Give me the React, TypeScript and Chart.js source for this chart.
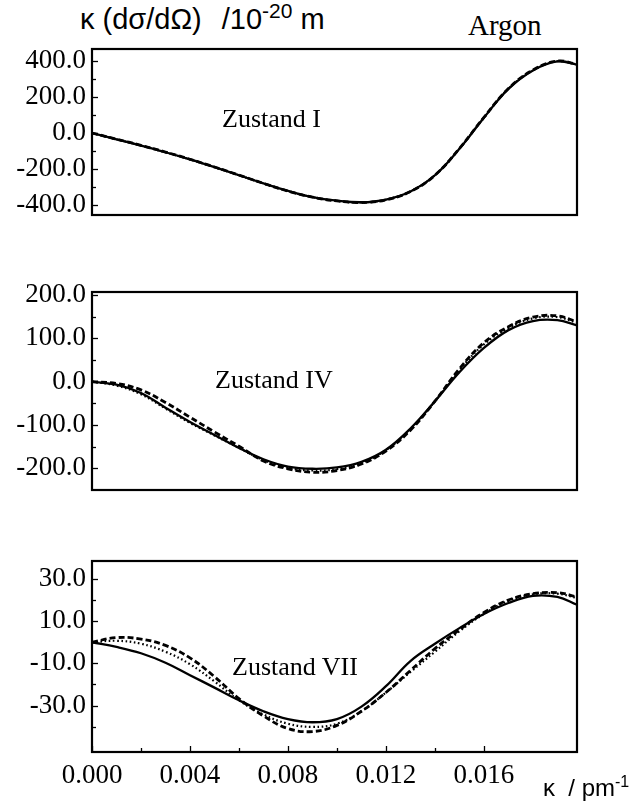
import { useEffect, useRef } from "react";
import { Chart, registerables } from "chart.js";

Chart.register(...registerables);

// Momentum transfer κ (pm^-1)
const KAPPA = [
  0, 0.001, 0.002, 0.003, 0.004, 0.005, 0.006, 0.007, 0.008, 0.009, 0.01,
  0.011, 0.012, 0.013, 0.014, 0.015, 0.016, 0.017, 0.018, 0.019, 0.0198,
];

// Zustand I
const I_SOLID = [0, -35, -70, -107, -147, -190, -235, -280, -322, -356, -376, -385, -370, -325, -235, -88, 85, 245, 348, 398, 380];
const I_DASHED = [0, -34, -69, -106, -146, -189, -234, -280, -323, -357, -378, -387, -372, -326, -235, -86, 87, 247, 350, 400, 382];
const I_DOTTED = [0, -35, -70, -107, -147, -190, -235, -281, -323, -357, -377, -386, -371, -325, -234, -87, 86, 246, 349, 399, 381];

// Zustand IV
const IV_SOLID = [0, -7, -26, -60, -93, -123, -153, -179, -196, -201, -198, -185, -157, -108, -45, 22, 78, 119, 140, 142, 130];
const IV_DASHED = [0, -4, -19, -48, -82, -116, -149, -183, -201, -209, -205, -190, -160, -112, -45, 30, 90, 127, 149, 152, 138];
const IV_DOTTED = [0, -9, -29, -62, -95, -124, -153, -181, -199, -205, -202, -188, -158, -110, -45, 27, 86, 124, 146, 149, 136];

// Zustand VII
const VII_SOLID = [0, -2.2, -5.2, -9.7, -15.6, -21.5, -27.5, -32.7, -36.4, -37.9, -36.4, -30.5, -20.8, -8.9, -0.7, 6.7, 13.4, 18.6, 22, 21.5, 17.8];
const VII_DASHED = [0, 2.2, 1.5, -1.5, -7.4, -16.3, -26.7, -34.9, -40.9, -42.3, -39.4, -32.7, -23.8, -13.4, -3, 5.9, 14.1, 20, 23, 23.5, 21.5];
const VII_DOTTED = [0, 0.7, -0.7, -4.5, -10.4, -18.6, -27.5, -34.2, -38.6, -40.1, -38.6, -32.7, -23.8, -14.1, -4.5, 5.2, 13.4, 19.6, 22.7, 23, 21];

// Axis ticks
const X_MAJOR = [0, 0.004, 0.008, 0.012, 0.016];
const X_MINOR = [0.002, 0.006, 0.01, 0.014];
const Y_MAJOR_I = [-400, -200, 0, 200, 400];
const Y_MINOR_I = [-300, -100, 100, 300];
const Y_MAJOR_IV = [-200, -100, 0, 100, 200];
const Y_MINOR_IV = [-150, -50, 50, 150];
const Y_MAJOR_VII = [-30, -10, 10, 30];
const Y_MINOR_VII = [-40, -20, 0, 20];

const SERIF = '"Liberation Serif", "Times New Roman", serif';
const SANS = '"Liberation Sans", Arial, sans-serif';

// Box around the plot area plus inward-pointing tick marks
const framePlugin = {
  id: "frame",
  afterDraw(chart: any, _args: any, opts: any) {
    const { ctx, chartArea: a, scales } = chart;
    ctx.save();
    ctx.strokeStyle = "#000";
    ctx.lineWidth = 1.3;
    const ys = scales.y;
    const tick = (vals: number[], len: number) => {
      for (const v of vals) {
        const py = Math.round(ys.getPixelForValue(v)) + 0.5;
        ctx.beginPath();
        ctx.moveTo(a.left, py);
        ctx.lineTo(a.left + len, py);
        ctx.stroke();
      }
    };
    tick(opts.yMajor || [], 6);
    tick(opts.yMinor || [], 4);
    if (opts.xTicks) {
      const xs = scales.x;
      const xt = (vals: number[], len: number) => {
        for (const v of vals) {
          const px = Math.round(xs.getPixelForValue(v)) + 0.5;
          ctx.beginPath();
          ctx.moveTo(px, a.bottom);
          ctx.lineTo(px, a.bottom - len);
          ctx.stroke();
        }
      };
      xt(X_MAJOR, 6);
      xt(X_MINOR, 4);
    }
    ctx.lineWidth = 2.2;
    ctx.strokeRect(a.left, a.top, a.right - a.left, a.bottom - a.top);
    ctx.restore();
  },
};

type PanelProps = {
  top: number;
  height: number;
  padTop: number;
  yMin: number;
  yMax: number;
  yMajor: number[];
  yMinor: number[];
  solid: number[];
  dashed: number[];
  dotted: number[];
  showX: boolean;
};

function Panel(p: PanelProps) {
  const ref = useRef<HTMLCanvasElement | null>(null);
  useEffect(() => {
    if (!ref.current) return;
    const pts = (ys: number[]) => KAPPA.map((x, i) => ({ x, y: ys[i] }));
    const chart = new Chart(ref.current, {
      type: "line",
      data: {
        datasets: [
          {
            data: pts(p.dotted),
            borderColor: "#000",
            borderWidth: 2.2,
            borderDash: [1.6, 2.6],
            pointRadius: 0,
            tension: 0.4,
            fill: false,
          },
          {
            data: pts(p.dashed),
            borderColor: "#000",
            borderWidth: 2.8,
            borderDash: [6, 3],
            pointRadius: 0,
            tension: 0.4,
            fill: false,
          },
          {
            data: pts(p.solid),
            borderColor: "#000",
            borderWidth: 2.3,
            pointRadius: 0,
            tension: 0.4,
            fill: false,
          },
        ],
      },
      options: {
        animation: false,
        responsive: false,
        maintainAspectRatio: false,
        events: [],
        layout: { padding: { left: 0, right: 58, top: p.padTop, bottom: p.showX ? 0 : 5 } },
        plugins: {
          legend: { display: false },
          tooltip: { enabled: false },
          frame: { yMajor: p.yMajor, yMinor: p.yMinor, xTicks: p.showX },
        } as any,
        scales: {
          x: {
            type: "linear",
            min: 0,
            max: 0.0198,
            display: p.showX,
            grid: { display: false, drawTicks: false },
            border: { display: false },
            afterBuildTicks: (s: any) => {
              s.ticks = X_MAJOR.map((value) => ({ value }));
            },
            afterFit: (s: any) => {
              if (p.showX) s.height = 50;
              s.paddingLeft = 0;
              s.paddingRight = 0;
            },
            ticks: {
              autoSkip: false,
              maxRotation: 0,
              padding: 8,
              color: "#000",
              font: { family: SERIF, size: 27 },
              callback: (v: any) => Number(v).toFixed(3),
            },
          },
          y: {
            type: "linear",
            min: p.yMin,
            max: p.yMax,
            grid: { display: false, drawTicks: false },
            border: { display: false },
            afterBuildTicks: (s: any) => {
              s.ticks = p.yMajor.map((value) => ({ value }));
            },
            afterFit: (s: any) => {
              s.width = 92;
              s.paddingTop = 0;
              s.paddingBottom = 0;
            },
            ticks: {
              autoSkip: false,
              padding: 6,
              color: "#000",
              font: { family: SERIF, size: 27 },
              callback: (v: any) => Number(v).toFixed(1),
            },
          },
        },
      },
      plugins: [framePlugin],
    });
    return () => chart.destroy();
  }, []);
  return (
    <canvas
      ref={ref}
      width={635}
      height={p.height}
      style={{ position: "absolute", left: 0, top: p.top, width: 635, height: p.height }}
    />
  );
}

const textBase: any = { position: "absolute", whiteSpace: "nowrap", lineHeight: 1, color: "#000" };

export default function App() {
  return (
    <div style={{ position: "absolute", left: 0, top: 0, width: 635, height: 802, background: "#fff", overflow: "hidden" }}>
      <Panel top={44} height={176} padTop={5} yMin={-456} yMax={467} yMajor={Y_MAJOR_I} yMinor={Y_MINOR_I}
        solid={I_SOLID} dashed={I_DASHED} dotted={I_DOTTED} showX={false} />
      <Panel top={272} height={223} padTop={20} yMin={-250} yMax={207} yMajor={Y_MAJOR_IV} yMinor={Y_MINOR_IV}
        solid={IV_SOLID} dashed={IV_DASHED} dotted={IV_DOTTED} showX={false} />
      <Panel top={546} height={256} padTop={15} yMin={-52} yMax={38.5} yMajor={Y_MAJOR_VII} yMinor={Y_MINOR_VII}
        solid={VII_SOLID} dashed={VII_DASHED} dotted={VII_DOTTED} showX={true} />

      <div style={{ ...textBase, left: 80, top: 5, fontFamily: SANS, fontSize: 29 }}>
        κ (dσ/dΩ)<span style={{ display: "inline-block", width: 20 }} />/10<sup style={{ fontSize: 21, verticalAlign: "11px", lineHeight: 0 }}>-20</sup> m
      </div>
      <div style={{ ...textBase, left: 468, top: 11, fontFamily: SERIF, fontSize: 29 }}>Argon</div>

      <div style={{ ...textBase, left: 222, top: 106, fontFamily: SERIF, fontSize: 26 }}>Zustand I</div>
      <div style={{ ...textBase, left: 215, top: 367, fontFamily: SERIF, fontSize: 26 }}>Zustand IV</div>
      <div style={{ ...textBase, left: 232, top: 654, fontFamily: SERIF, fontSize: 26 }}>Zustand VII</div>

      <div style={{ ...textBase, left: 543, top: 776, fontFamily: SANS, fontSize: 24 }}>
        κ&nbsp; / pm<sup style={{ fontSize: 16, verticalAlign: "9px", lineHeight: 0 }}>-1</sup>
      </div>
    </div>
  );
}
